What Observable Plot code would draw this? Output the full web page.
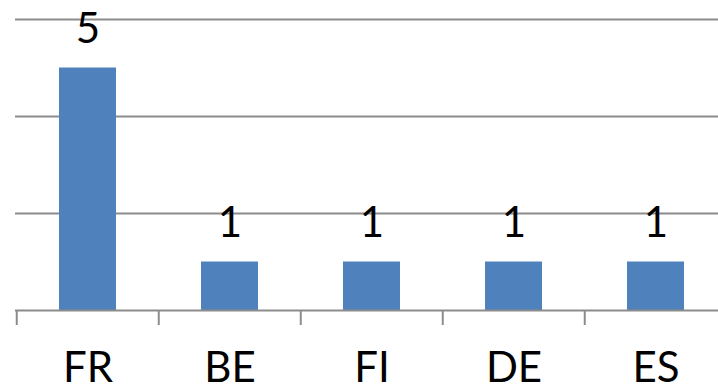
<!DOCTYPE html>
<html>
<head>
<meta charset="utf-8">
<script src="https://cdn.jsdelivr.net/npm/d3@7"></script>
<script src="https://cdn.jsdelivr.net/npm/@observablehq/plot@0.6"></script>
<style>
  html, body { margin: 0; padding: 0; background: #fff; overflow: hidden; }
  #chart svg { display: block; font-family: Lato, "Open Sans", sans-serif; }
</style>
</head>
<body>
<div id="chart"></div>
<script>
const categories = ["FR", "BE", "FI", "DE", "ES"];
const values = [5, 1, 1, 1, 1];
const gridTicks = [2, 4, 6];

const data = categories.map((c, i) => ({country: c, count: values[i]}));

const W = 718, H = 388;
const xRange = [15, 727.5];
const step = (xRange[1] - xRange[0]) / categories.length;
const gridColor = "#8c8c8c";
const barColor = "#4F81BD";
const font = 42;

const chart = Plot.plot({
  width: W,
  height: H,
  marginLeft: 15,
  marginRight: 0,
  marginTop: 0,
  marginBottom: 78,
  style: {fontFamily: "Lato, 'Open Sans', sans-serif", background: "#fff"},
  x: {domain: categories, range: xRange, paddingInner: 0.6, paddingOuter: 0.3, align: 0.5, label: null},
  y: {domain: [0, 6], range: [310, 19], label: null},
  marks: [
    Plot.ruleY(gridTicks, {stroke: gridColor, strokeWidth: 2}),
    Plot.barY(data, {x: "country", y: "count", fill: barColor}),
    Plot.ruleY([0], {stroke: gridColor, strokeWidth: 2}),
    Plot.axisX({tickSize: 15, stroke: gridColor, strokeWidth: 2, strokeOpacity: 1, text: null, label: null, dx: -step / 2}),
    Plot.axisX({tickSize: 0, tickPadding: 42, fontSize: font, fill: "#000", label: null}),
    Plot.axisY({ticks: [], label: null}),
    Plot.text(data, {x: "country", y: "count", text: d => String(d.count), fontSize: font, fill: "#000", dy: -38})
  ]
});
document.getElementById("chart").appendChild(chart);
</script>
</body>
</html>
